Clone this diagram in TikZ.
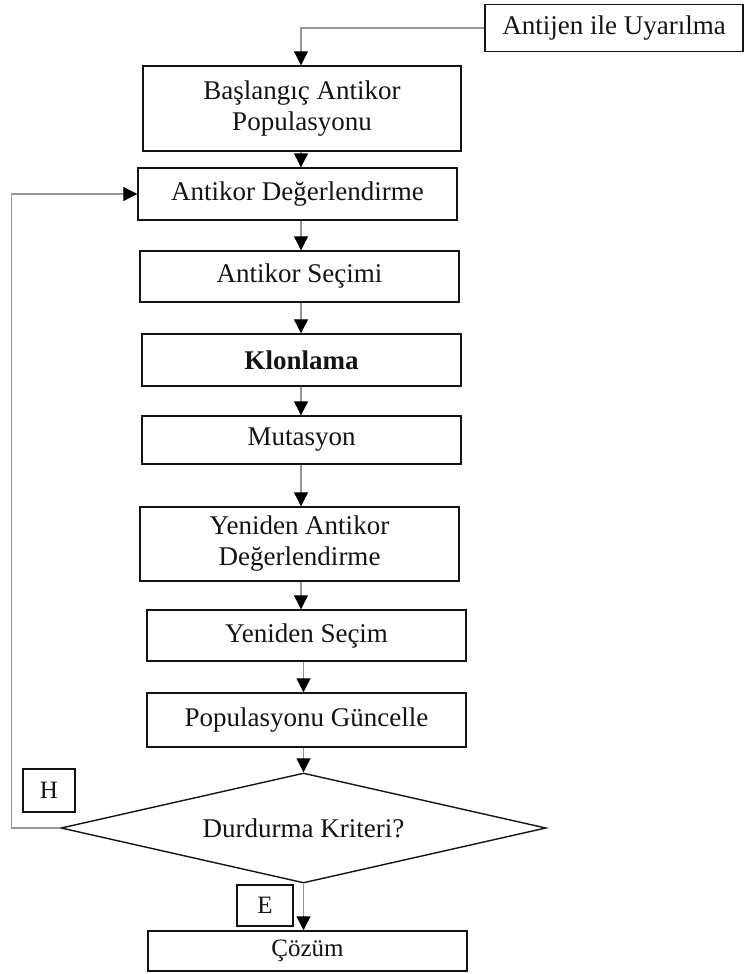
\documentclass[tikz,border=0pt]{standalone}
\usepackage{fontspec}
\setmainfont{Liberation Serif}
\usetikzlibrary{arrows.meta, positioning, shapes.geometric}
\definecolor{ink}{RGB}{20,20,20}
\definecolor{wire}{RGB}{150,150,150}

\begin{document}
\begin{tikzpicture}[x=1pt, y=-1pt,
  box/.style={draw=ink, line width=1.4pt, fill=white, text=ink, align=center,
    inner sep=0pt, font=\fontsize{27}{31}\selectfont},
  tag/.style={box, font=\fontsize{25}{29}\selectfont},
  arr/.style={wire, line width=1.1pt, -{Triangle[length=14pt, width=14pt, black]}}]
  \useasboundingbox[fill=white] (0,0) rectangle (745,974);
  \node[box, minimum width=258pt, minimum height=47pt] (antijen) at (614,28) {Antijen ile Uyarılma};
  \node[box, minimum width=318pt, minimum height=85pt] (basla) at (302,108.5) {Başlangıç Antikor\\[0pt]Populasyonu};
  \node[box, minimum width=319pt, minimum height=52pt] (deger) at (297.5,194) {Antikor Değerlendirme};
  \node[box, minimum width=319pt, minimum height=51pt] (secim) at (299.5,276.5) {Antikor Seçimi};
  \node[box, minimum width=319pt, minimum height=52pt, font=\fontsize{27}{31}\selectfont\bfseries] (klon) at (301.5,360) {Klonlama};
  \node[box, minimum width=319pt, minimum height=48pt] (mutasyon) at (301.5,440) {Mutasyon};
  \node[box, minimum width=319pt, minimum height=74pt] (yantikor) at (299.5,544) {Yeniden Antikor\\[0pt]Değerlendirme};
  \node[box, minimum width=319pt, minimum height=51pt] (ysecim) at (306.5,635.5) {Yeniden Seçim};
  \node[box, minimum width=319pt, minimum height=54pt] (guncelle) at (306.5,720) {Populasyonu Güncelle};
  \node[box, diamond, minimum width=485pt, minimum height=110pt, aspect=4.4] (durdur) at (303.5,828) {Durdurma Kriteri?};
  \node[tag, minimum width=52pt, minimum height=43pt] (hayir) at (49,790.5) {H};
  \node[tag, minimum width=56pt, minimum height=41pt] (evet) at (265,905.5) {E};
  \node[box, minimum width=319pt, minimum height=40pt, font=\fontsize{25}{29}\selectfont] (cozum) at (307.5,951) {Çözüm};
  \coordinate (trunk) at (301,0);
  % main flow
  \draw[arr] (antijen.west) -| (basla.north -| trunk);
  \draw[arr] (basla.south -| trunk) -- (deger.north -| trunk);
  \draw[arr] (deger.south -| trunk) -- (secim.north -| trunk);
  \draw[arr] (secim.south -| trunk) -- (klon.north -| trunk);
  \draw[arr] (klon.south -| trunk) -- (mutasyon.north -| trunk);
  \draw[arr] (mutasyon.south -| trunk) -- (yantikor.north -| trunk);
  \draw[arr] (yantikor.south -| trunk) -- (ysecim.north -| trunk);
  \draw[arr] (ysecim.south -| durdur.north) -- (guncelle.north -| durdur.north);
  \draw[arr] (guncelle.south -| durdur.north) -- (durdur.north);
  \draw[arr] (durdur.south) -- (cozum.north -| durdur.south);
  % loop back
  \draw[arr] (durdur.west) -- ++(-49,0) |- (deger.west);
\end{tikzpicture}
\end{document}
